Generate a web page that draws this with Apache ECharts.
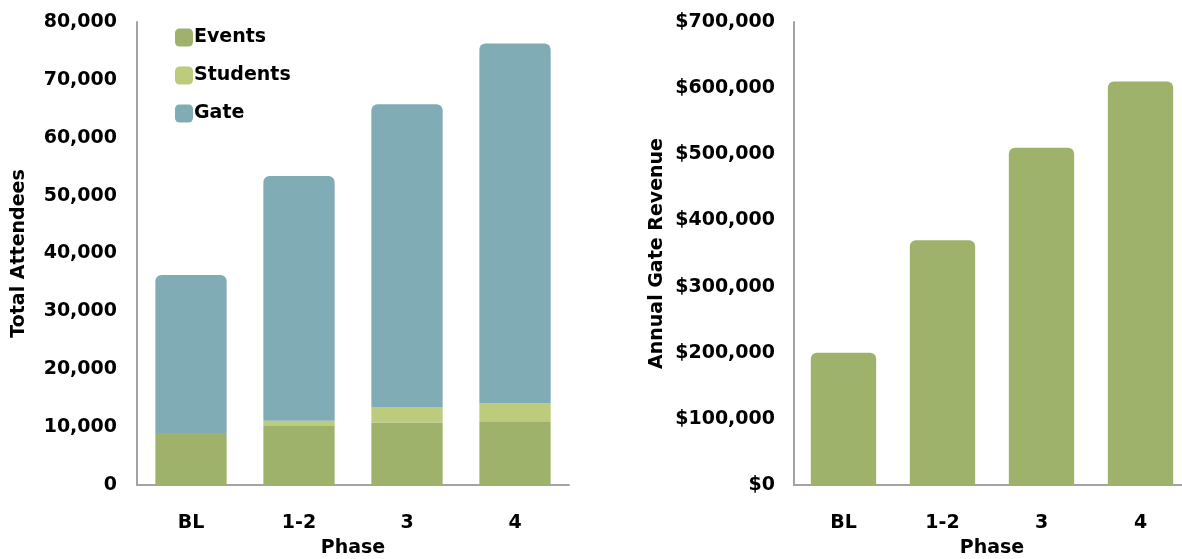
<!DOCTYPE html>
<html><head><meta charset="utf-8">
<script src="https://cdn.jsdelivr.net/npm/echarts@6/dist/echarts.min.js"></script>
<style>html,body{margin:0;padding:0;background:#fff}#c{width:1182px;height:559px}</style>
</head><body><div id="c"></div>
<script>
const phases = ['BL', '1-2', '3', '4'];
const events = [9000, 10200, 10800, 11000];
const students = [0, 900, 2600, 3100];
const gate = [27300, 42300, 52400, 62200];
const revenue = [200000, 370000, 510000, 610000];

const FONT = '"DejaVu Sans", Verdana, sans-serif';
const txt = {fontFamily: FONT, fontWeight: 'bold', fontSize: 19, color: '#000'};
const axisLine = {show: true, lineStyle: {color: '#a3a3a3', width: 2}};
const fmtNum = v => v.toLocaleString('en-US');

const chart = echarts.init(document.getElementById('c'));
chart.setOption({
  animation: false,
  textStyle: {fontFamily: FONT},
  legend: {
    orient: 'vertical', left: 170, top: 23, itemGap: 19,
    itemWidth: 18, itemHeight: 18, icon: 'roundRect',
    textStyle: Object.assign({}, txt, {padding: [0, 0, 0, -4]}),
    data: ['Events', 'Students', 'Gate']
  },
  grid: [
    {left: 137, width: 432, top: 22, bottom: 74, outerBoundsMode: 'none', containLabel: false},
    {left: 794, width: 396, top: 22, bottom: 74, outerBoundsMode: 'none', containLabel: false}
  ],
  xAxis: [
    {gridIndex: 0, type: 'category', data: phases, name: 'Phase', nameLocation: 'middle', nameGap: 54,
     nameTextStyle: txt, axisLine: axisLine, axisTick: {show: false}, axisLabel: Object.assign({margin: 29}, txt)},
    {gridIndex: 1, type: 'category', data: phases, name: 'Phase', nameLocation: 'middle', nameGap: 54,
     nameTextStyle: txt, axisLine: axisLine, axisTick: {show: false}, axisLabel: Object.assign({margin: 29}, txt)}
  ],
  yAxis: [
    {gridIndex: 0, type: 'value', min: 0, max: 80000, interval: 10000, name: 'Total Attendees',
     nameLocation: 'middle', nameGap: 108, nameTextStyle: txt, axisLine: axisLine, axisTick: {show: false},
     splitLine: {show: false}, axisLabel: Object.assign({margin: 20, formatter: fmtNum}, txt)},
    {gridIndex: 1, type: 'value', min: 0, max: 700000, interval: 100000, name: 'Annual Gate Revenue',
     nameLocation: 'middle', nameGap: 127, nameTextStyle: txt, axisLine: axisLine, axisTick: {show: false},
     splitLine: {show: false}, axisLabel: Object.assign({margin: 19, formatter: v => '$' + fmtNum(v)}, txt)}
  ],
  series: [
    {name: 'Events', type: 'bar', stack: 'a', xAxisIndex: 0, yAxisIndex: 0, data: events, barWidth: '66%',
     itemStyle: {color: '#9fb26b'}},
    {name: 'Students', type: 'bar', stack: 'a', xAxisIndex: 0, yAxisIndex: 0, data: students, barWidth: '66%',
     itemStyle: {color: '#bdcc7c'}},
    {name: 'Gate', type: 'bar', stack: 'a', xAxisIndex: 0, yAxisIndex: 0, data: gate, barWidth: '66%',
     itemStyle: {color: '#80acb5', borderRadius: [6, 6, 0, 0]}},
    {name: 'Revenue', type: 'bar', xAxisIndex: 1, yAxisIndex: 1, data: revenue, barWidth: '66%',
     itemStyle: {color: '#9fb26b', borderRadius: [6, 6, 0, 0]}}
  ]
});
</script></body></html>
